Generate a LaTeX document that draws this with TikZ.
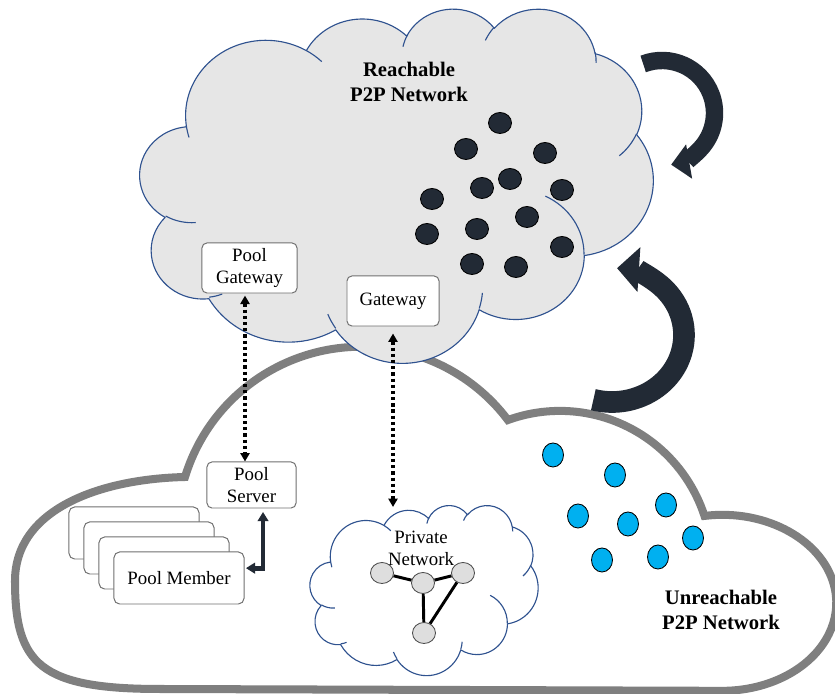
\documentclass[tikz,border=0pt]{standalone}
\usepackage{fontspec}
\setmainfont{Liberation Serif}
\usetikzlibrary{arrows.meta,shapes.geometric}
\definecolor{CloudFill}{HTML}{E6E6E6}
\definecolor{CloudLine}{HTML}{2F528F}
\definecolor{DeepNavy}{HTML}{222A35}
\definecolor{SkyBlue}{HTML}{00B0F0}
\definecolor{RimGray}{HTML}{7F7F7F}
\definecolor{BoxGray}{HTML}{707070}
\definecolor{NodeGray}{HTML}{DEDEDE}
\definecolor{EdgeGray}{HTML}{4D4D4D}

% office style cloud in a 43.2 x 43.2 box, y pointing down
\newcommand\puff[4]{\pgfextra{%
    \pgfmathsetmacro\puffs{atan2(#1*sin(#3),#2*cos(#3))}%
    \pgfmathsetmacro\puffd{atan2(#1*sin(#3+#4),#2*cos(#3+#4))-\puffs}%
    \pgfmathsetmacro\puffd{\puffd-360*round((\puffd-(#4))/360)}%
    \global\let\puffs\puffs\global\let\puffd\puffd}%
  arc[start angle=\puffs, delta angle=\puffd, x radius=#1, y radius=#2]}
\newcommand\cloudrim{(3.900,14.370)
  \puff{6.753}{9.190}{-190.4875}{123.7805}
  \puff{5.333}{7.267}{-144.1024}{89.9452}
  \puff{4.365}{5.945}{-145.8079}{99.7230}
  \puff{4.857}{6.595}{-130.9861}{117.2417}
  \puff{5.333}{7.273}{-78.7089}{109.0269}
  \puff{6.775}{9.220}{-46.2673}{130.2690}
  \puff{5.785}{7.867}{0.6250}{114.0333}
  \puff{6.752}{9.215}{22.4516}{115.1726}
  \puff{7.720}{10.543}{66.2426}{75.7110}
  \puff{4.360}{5.918}{-274.9421}{146.7356}
  \puff{4.345}{5.945}{-246.8285}{152.5189} -- cycle}
\newcommand\cloudcreases{
  (4.693,26.177) \puff{4.345}{5.945}{86.7420}{26.4295}
  (6.928,34.899) \puff{4.360}{5.918}{73.6105}{11.4475}
  (16.478,39.090) \puff{6.752}{9.215}{137.6242}{14.0811}
  (28.827,34.751) \puff{6.752}{9.215}{6.4533}{15.9984}
  (34.129,22.954) \puff{5.785}{7.867}{-70.2924}{70.9174}
  (41.798,15.354) \puff{5.333}{7.273}{30.3180}{27.7515}
  (38.324,5.426) \puff{4.857}{6.595}{-13.7443}{14.8589}
  (29.078,3.952) \puff{4.857}{6.595}{-149.1815}{18.1954}
  (22.141,4.720) \puff{4.365}{5.945}{-163.4943}{19.0163}
  (14.000,5.192) \puff{6.753}{9.190}{-66.7070}{12.3194}
  (4.127,15.789) \puff{6.753}{9.190}{157.6544}{11.8582}}

\begin{document}
\begin{tikzpicture}[
    x=0.025cm, y=0.025cm,
    font=\fontsize{13.4pt}{15.6pt}\selectfont,
    outercloud/.style={draw=RimGray, line width=5.7pt, fill=white},
    topcloud/.style={draw=CloudLine, line width=0.8pt, fill=CloudFill, line join=round},
    prvcloud/.style={draw=CloudLine, line width=0.8pt, fill=white, line join=round},
    crease/.style={draw=CloudLine, line width=0.8pt},
    gate/.style={rectangle, rounded corners=3.5pt, draw=BoxGray, fill=white, line width=0.7pt, align=center, inner sep=1pt, minimum width=2.375cm, minimum height=1.25cm},
    card/.style={rectangle, rounded corners=4pt, draw=BoxGray, fill=white, line width=0.7pt, inner sep=1pt, minimum width=3.25cm, minimum height=1.3cm},
    reach/.style={ellipse, draw=black, fill=DeepNavy, line width=0.6pt, inner sep=0pt, minimum width=0.575cm, minimum height=0.525cm},
    unreach/.style={ellipse, draw=black, fill=SkyBlue, line width=0.6pt, inner sep=0pt, minimum width=0.525cm, minimum height=0.6cm},
    peer/.style={ellipse, draw=EdgeGray, fill=NodeGray, line width=0.6pt, inner sep=0pt, minimum width=0.575cm, minimum height=0.525cm},
    plink/.style={line width=2.1pt, draw=black},
    head/.style={align=center, font=\fontsize{14.7pt}{17.8pt}\selectfont\bfseries},
    plain/.style={align=center, inner sep=0pt},
    dotarrow/.style={{Triangle[length=6pt,width=6.5pt]}-{Triangle[length=6pt,width=6.5pt]}, line width=2.4pt, dash pattern=on 2.3pt off 2.1pt},
    elbow/.style={{Triangle[length=6.5pt,width=7.5pt]}-{Triangle[length=6.5pt,width=7.5pt]}, line width=3.4pt, draw=DeepNavy},
    bigturn/.style={draw=DeepNavy, fill=none}
]
\useasboundingbox (0,0) rectangle (835,694);

\draw[outercloud] (160,5) .. controls (40,5) and (15,30) .. (15,113)
  .. controls (15,185) and (100,215) .. (185,217)
  arc[start angle=163, end angle=37, radius=184]
  arc[start angle=110, end angle=18, radius=152]
  arc[start angle=99, end angle=-90, x radius=114, y radius=88] -- cycle;

\begin{scope}[shift={(140,686)}, x=0.29688cm, y=-0.20486cm]
  \draw[topcloud] \cloudrim;
  \draw[crease] \cloudcreases;
\end{scope}
\begin{scope}[shift={(310,189)}, x=0.13194cm, y=-0.09838cm]
  \draw[prvcloud] \cloudrim;
  \draw[crease] \cloudcreases;
\end{scope}

\node[head] (reachlbl) at (409,612) {Reachable\\P2P Network};
\node[head] (unreachlbl) at (721,84) {Unreachable\\P2P Network};

\foreach \x/\y [count=\k] in {500/571, 466/545, 545/541, 510/515, 482/506, 562/504, 432/495,
    527/477, 427/460, 477/465, 562/447, 472/430, 516/427}
  \node[reach] (r\k) at (\x,\y) {};
\foreach \x/\y [count=\k] in {553/239, 615/219, 578/178, 666/189, 628/170, 693/156, 602/134, 658/137}
  \node[unreach] (u\k) at (\x,\y) {};

\node[gate] (pgw) at (249.5,426) {Pool\\Gateway};
\node[gate, minimum width=2.3cm] (gw) at (393,393) {Gateway};
\node[gate, minimum width=2.225cm, minimum height=1.15cm] (psrv) at (251.5,209) {Pool\\Server};

\foreach \i in {3,2,1}
  \node[card] (card\i) at (179-15*\i,116+15*\i) {};
\node[card] (pmem) at (179,116) {Pool Member};

\node[plain] (prvlbl) at (421,146) {Private\\Network};
\node[peer] (pn1) at (382,121) {};
\node[peer] (pn2) at (423,111) {};
\node[peer] (pn3) at (463,121) {};
\node[peer] (pn4) at (424,61) {};
\draw[plink] (pn1) -- (pn2);
\draw[plink] (pn2) -- (pn3);
\draw[plink] (pn2) -- (pn4);
\draw[plink] (pn3) -- (pn4);

\coordinate (prvtop) at (393,187);
\coordinate (spina) at (662,581);
\coordinate (spinb) at (612,359);

\draw[dotarrow] ([xshift=-3.2pt,yshift=-1.5pt]pgw.south) -- ([xshift=-3.2pt]pgw.south |- psrv.north);
\draw[dotarrow] ([yshift=-5pt]gw.south) -- (prvtop);
\draw[elbow] ([xshift=8.2pt,yshift=-2.5pt]psrv.south) |- ([xshift=1pt,yshift=7pt]pmem.east);

\draw[bigturn, line width=12.4pt, -{Triangle[length=13pt,width=24pt]}]
  ([shift={(111:52.5)}]spina) arc[start angle=111, end angle=-80, radius=52.5];
\draw[bigturn, line width=15.4pt, -{Triangle[length=15.6pt,width=31pt]}]
  ([shift={(-105:72 and 67)}]spinb) arc[start angle=-105, end angle=86, x radius=72, y radius=67];
\end{tikzpicture}
\end{document}
